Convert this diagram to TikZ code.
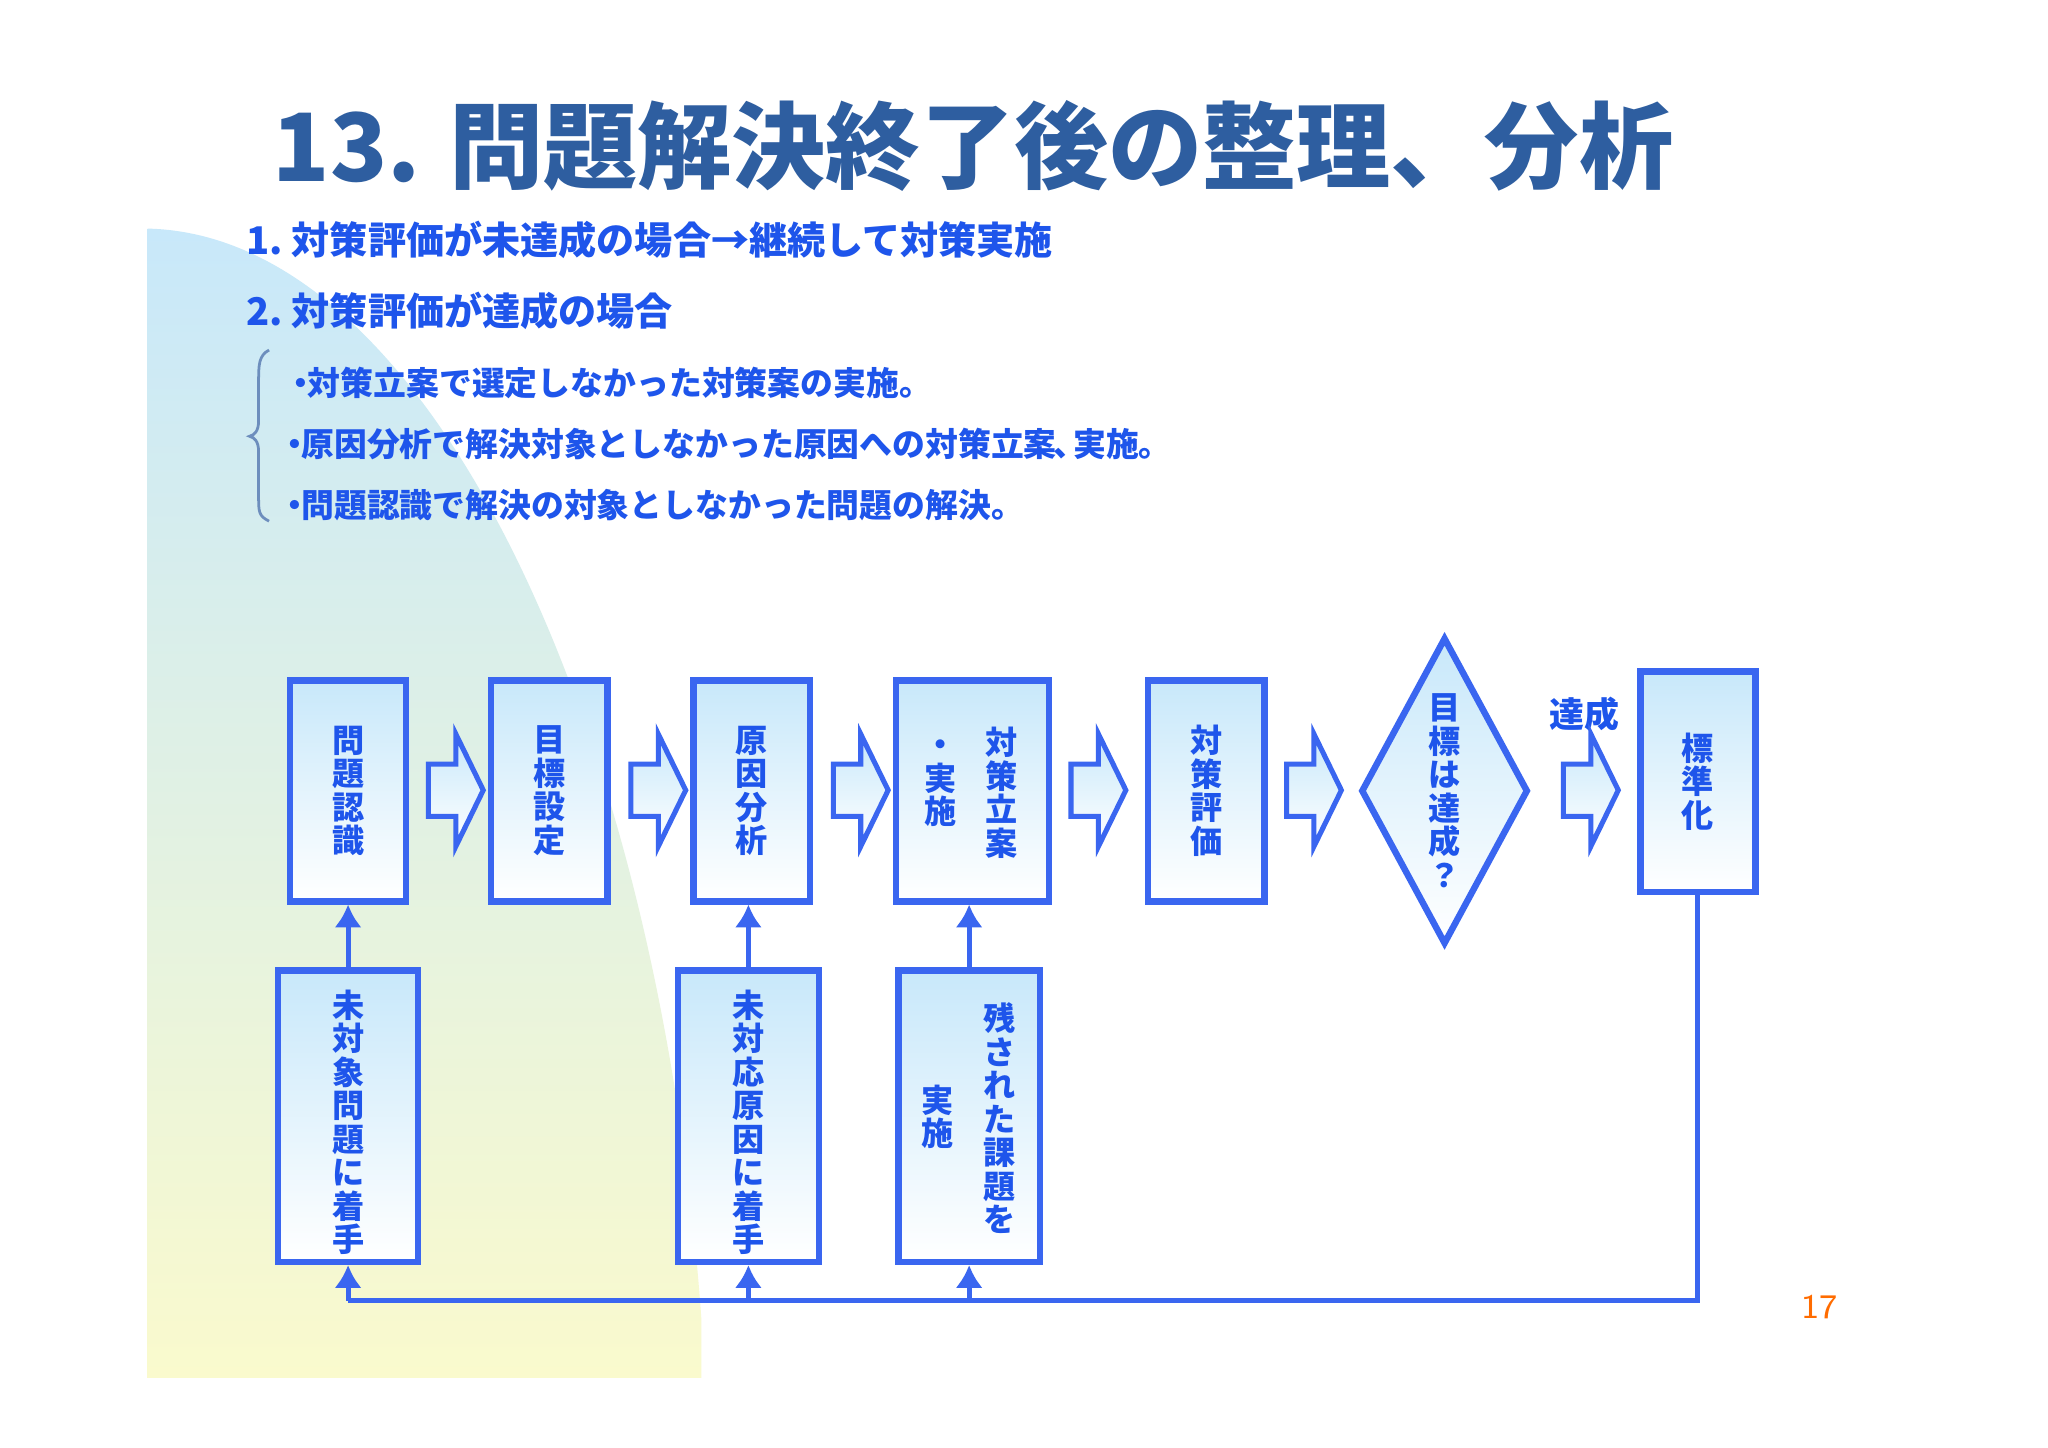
\documentclass[tikz,border=0pt]{standalone}
\usepackage{fontspec}
\newfontfamily\jp{Noto Sans CJK JP}
\definecolor{bord}{RGB}{58,102,240}
\definecolor{txt}{RGB}{30,85,235}
\definecolor{ttl}{RGB}{46,94,160}
\definecolor{lb}{RGB}{200,232,250}
\definecolor{ly}{RGB}{250,250,205}
\tikzset{
 box/.style={draw=bord,line width=1.4pt,top color=lb,bottom color=white,minimum width=#1,minimum height=1.69cm,inner sep=0pt},
 vt/.style={text=txt,font=\jp\bfseries\fontsize{7}{7.3}\selectfont,align=center,inner sep=0pt},
 conn/.style={draw=bord,line width=1.1pt},
 up/.style={conn,-{Latex[length=5pt,width=6pt]}},
 blk/.style={draw=bord,line width=1.1pt,top color=lb,bottom color=white},
 line/.style={text=txt,font=\jp\bfseries\fontsize{8.3}{9}\selectfont,anchor=west,inner sep=0pt},
 bline/.style={text=txt,font=\jp\bfseries\fontsize{7.15}{9}\selectfont,anchor=west,inner sep=0pt}
}
\usetikzlibrary{arrows.meta}
\newcommand\blockarr[2]{\path[blk] (#1-21,#2-20) -- (#1,#2-20) -- (#1,#2-43) -- (#1+21,#2) -- (#1,#2+43) -- (#1,#2+20) -- (#1-21,#2+20) -- cycle;}
\begin{document}
\begin{tikzpicture}[x=0.01cm,y=-0.01cm]
\useasboundingbox[fill=white] (0,0) rectangle (1568,1108);
\shade[top color=lb,bottom color=ly] (113,175) .. controls (330,180) and (505,560) .. (537,1010) -- (537,1055) -- (113,1055) -- cycle;
\node[text=ttl,font=\jp\bfseries\fontsize{20.5}{24}\selectfont] (title) at (745,112) {13. 問題解決終了後の整理、分析};
\node[line] (l1) at (188,184) {1.\ 対策評価が未達成の場合→継続して対策実施};
\node[line] (l2) at (188,238) {2.\ 対策評価が達成の場合};
\node[bline] (l3) at (225,293) {\kern-0.3em・\kern-0.3em対策立案で選定しなかった対策案の実施。};
\node[bline] (l4) at (220,340) {\kern-0.3em・\kern-0.3em原因分析で解決対象としなかった原因への対策立案\kern-0.1em、\kern-0.4em実施。};
\node[bline] (l5) at (220,387) {\kern-0.3em・\kern-0.3em問題認識で解決の対象としなかった問題の解決。};
\draw[color=ttl!70,line width=0.6pt] (206,268) .. controls (198,272) and (198,280) .. (198,292) -- (198,322) .. controls (198,330) and (195,333) .. (191,334) .. controls (195,335) and (198,338) .. (198,346) -- (198,380) .. controls (198,392) and (198,395) .. (206,399);
% top row
\node[box=0.89cm] (b1) at (266.5,605.5) {};
\node[vt] at (b1) {問\\題\\認\\識};
\node[box=0.89cm] (b2) at (420.5,605.5) {};
\node[vt] at (b2) {目\\標\\設\\定};
\node[box=0.89cm] (b3) at (575.5,605.5) {};
\node[vt] at (b3) {原\\因\\分\\析};
\node[box=1.17cm] (b4) at (744.5,605.5) {};
\node[vt,anchor=north] (b4r) at (767,556) {対\\策\\立\\案};
\node[vt,anchor=north] (b4l) at (720,566) {・\\実\\施};
\node[box=0.89cm] (b5) at (923.5,605.5) {};
\node[vt] at (b5) {対\\策\\評\\価};
\path[draw=bord,line width=1.4pt,top color=lb,bottom color=white] (1106,489) -- (1169,605.5) -- (1106,722) -- (1043,605.5) -- cycle;
\node[vt] (d) at (1106,605.5) {目\\標\\は\\達\\成\\？};
\node[box=0.88cm] (std) at (1300,598.5) {};
\node[vt] at (std) {標\\準\\化};
\node[text=txt,font=\jp\bfseries\fontsize{7.6}{9}\selectfont] (lab) at (1213,547) {達成};
\blockarr{349}{605}
\blockarr{504}{605}
\blockarr{659}{605}
\blockarr{841}{605}
\blockarr{1006}{605}
\blockarr{1218}{605}
% bottom row
\node[box=1.07cm,minimum height=2.23cm] (u1) at (266.5,854.5) {};
\node[vt,anchor=north] at (266.5,757) {未\\対\\象\\問\\題\\に\\着\\手};
\node[box=1.08cm,minimum height=2.23cm] (u2) at (573,854.5) {};
\node[vt,anchor=north] at (573,757) {未\\対\\応\\原\\因\\に\\着\\手};
\node[box=1.08cm,minimum height=2.23cm] (u3) at (742,854.5) {};
\node[vt,anchor=north] at (765,767) {残\\さ\\れ\\た\\課\\題\\を};
\node[vt,anchor=north] at (718,830) {実\\施};
\draw[up] (u1.north) -- (u1.north |- b1.south);
\draw[up] (u2.north) -- (u2.north |- b3.south);
\draw[up] (u3.north) -- (u3.north |- b4.south);
\coordinate (c1) at (266.5,996);
\coordinate (c2) at (573,996);
\coordinate (c3) at (742,996);
\draw[conn] (std.south) |- (c1);
\draw[up] (c1) -- (u1.south);
\draw[up] (c2) -- (u2.south);
\draw[up] (c3) -- (u3.south);
\node[text=orange!85!red,font=\fontsize{7.5}{9}\selectfont\sffamily] (pg) at (1393,1001) {17};
\end{tikzpicture}
\end{document}
